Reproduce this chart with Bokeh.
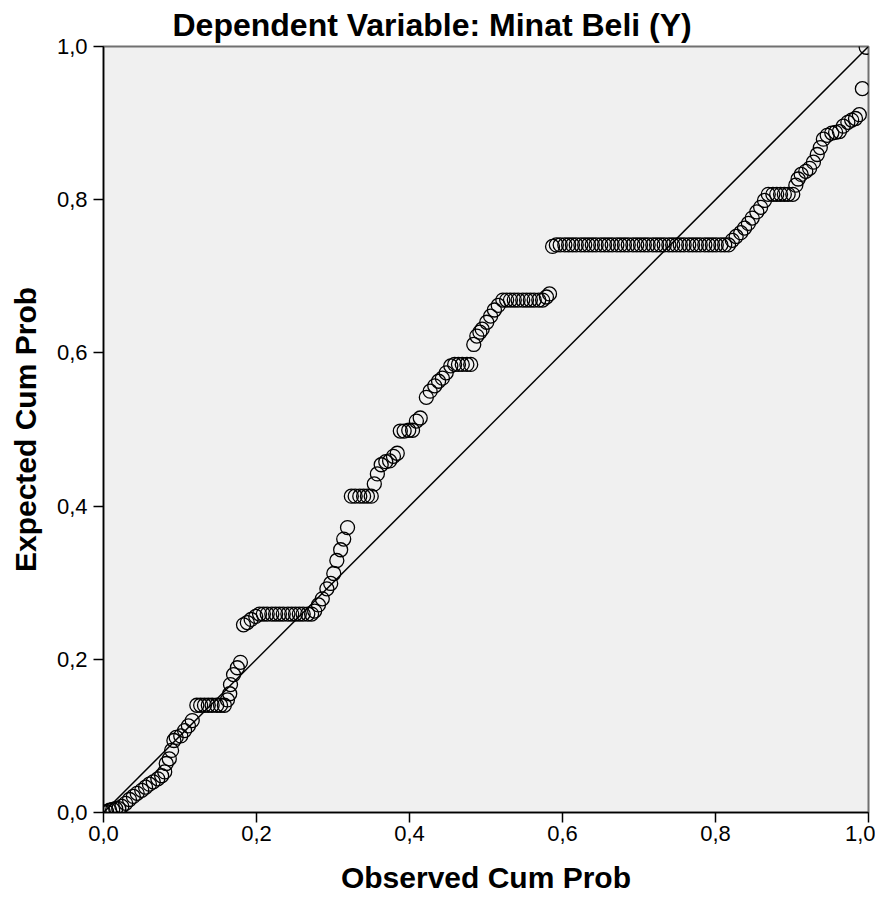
from bokeh.plotting import figure
from bokeh.models import Range1d, FixedTicker, CustomJSTickFormatter
from bokeh.embed import file_html
from bokeh.resources import INLINE

title_text = "Dependent Variable: Minat Beli (Y)"
x_label = "Observed Cum Prob"
y_label = "Expected Cum Prob"
tick_values = [0.0, 0.2, 0.4, 0.6, 0.8, 1.0]

obs_cum_prob = [
    0.000, 0.004, 0.008, 0.012, 0.016, 0.020, 0.024,
    0.029, 0.034, 0.039, 0.044, 0.050, 0.055, 0.060, 0.065, 0.071, 0.076, 0.080, 0.082, 0.086, 0.089,
    0.092, 0.095, 0.101, 0.106, 0.111, 0.116,
    0.122, 0.127, 0.132, 0.137, 0.142, 0.148, 0.153, 0.158,
    0.162, 0.165, 0.166, 0.170, 0.175, 0.179,
    0.183, 0.188, 0.193, 0.199,
    0.204, 0.209, 0.214, 0.220, 0.225, 0.230, 0.235, 0.241, 0.246, 0.251, 0.256, 0.261, 0.267, 0.272,
    0.276, 0.281, 0.286, 0.292, 0.297, 0.301, 0.305, 0.310, 0.314, 0.319,
    0.324, 0.329, 0.335, 0.340, 0.345, 0.350,
    0.354, 0.358, 0.363, 0.369, 0.374, 0.379, 0.384,
    0.388, 0.393, 0.399, 0.404, 0.409, 0.414,
    0.422, 0.427, 0.433, 0.438, 0.443, 0.448, 0.454,
    0.459, 0.464, 0.469, 0.475, 0.480,
    0.484, 0.488, 0.492, 0.495, 0.501, 0.506, 0.511, 0.516,
    0.522, 0.527, 0.532, 0.537, 0.542, 0.548, 0.553, 0.558, 0.563, 0.569, 0.574,
    0.579, 0.583,
    0.587,
    0.592, 0.597, 0.603, 0.608, 0.613, 0.618, 0.624, 0.629, 0.634, 0.639, 0.644, 0.650, 0.655, 0.660,
    0.665, 0.671, 0.676, 0.681, 0.686, 0.692, 0.697, 0.702, 0.707, 0.712, 0.718, 0.723, 0.728, 0.733,
    0.739, 0.744, 0.749, 0.754, 0.759, 0.765, 0.770, 0.775, 0.780, 0.786, 0.791, 0.796, 0.801, 0.807,
    0.812, 0.817,
    0.822, 0.827, 0.833, 0.838, 0.843, 0.848, 0.854, 0.859, 0.864,
    0.869, 0.875, 0.880, 0.885, 0.890, 0.895, 0.901,
    0.905, 0.908, 0.912, 0.918, 0.923, 0.928, 0.933, 0.937, 0.941, 0.946, 0.952, 0.957, 0.962, 0.967,
    0.973, 0.978, 0.983, 0.988,
    0.992, 0.997,
]

exp_cum_prob = [
    0.000, 0.001, 0.003, 0.004, 0.005, 0.005, 0.008,
    0.012, 0.017, 0.021, 0.025, 0.029, 0.033, 0.037, 0.040, 0.044, 0.048, 0.053, 0.064, 0.070, 0.081,
    0.094, 0.098, 0.100, 0.107, 0.113, 0.120,
    0.140, 0.140, 0.140, 0.140, 0.140, 0.140, 0.140, 0.140,
    0.147, 0.155, 0.167, 0.180, 0.189, 0.196,
    0.245, 0.248, 0.252, 0.256,
    0.259, 0.259, 0.259, 0.259, 0.259, 0.259, 0.259, 0.259, 0.259, 0.259, 0.259, 0.259, 0.259, 0.259,
    0.263, 0.271, 0.279, 0.292, 0.299, 0.312, 0.329, 0.343, 0.357, 0.372,
    0.413, 0.413, 0.413, 0.413, 0.413, 0.413,
    0.429, 0.442, 0.454, 0.458, 0.459, 0.465, 0.469,
    0.498, 0.498, 0.499, 0.499, 0.511, 0.515,
    0.542, 0.550, 0.557, 0.563, 0.567, 0.574, 0.583,
    0.585, 0.585, 0.585, 0.585, 0.585,
    0.611, 0.622, 0.627, 0.631, 0.640, 0.648, 0.656, 0.662,
    0.669, 0.669, 0.669, 0.669, 0.669, 0.669, 0.669, 0.669, 0.669, 0.669, 0.669,
    0.673, 0.677,
    0.739,
    0.741, 0.741, 0.741, 0.741, 0.741, 0.741, 0.741, 0.741, 0.741, 0.741, 0.741, 0.741, 0.741, 0.741,
    0.741, 0.741, 0.741, 0.741, 0.741, 0.741, 0.741, 0.741, 0.741, 0.741, 0.741, 0.741, 0.741, 0.741,
    0.741, 0.741, 0.741, 0.741, 0.741, 0.741, 0.741, 0.741, 0.741, 0.741, 0.741, 0.741, 0.741, 0.741,
    0.741, 0.741,
    0.747, 0.752, 0.757, 0.763, 0.769, 0.776, 0.784, 0.790, 0.799,
    0.807, 0.807, 0.807, 0.807, 0.807, 0.807, 0.807,
    0.819, 0.827, 0.833, 0.837, 0.841, 0.849, 0.859, 0.868, 0.879, 0.884, 0.887, 0.888, 0.889, 0.896,
    0.901, 0.904, 0.906, 0.911,
    0.945, 0.999,
]

diag_x = [0.0, 1.0]
diag_y = [0.0, 1.0]

FONT = "Liberation Sans"

p = figure(
    width=875, height=903,
    output_backend="svg", toolbar_location=None,
    x_range=Range1d(0, 1), y_range=Range1d(0, 1),
    min_border_left=103, min_border_right=7, min_border_top=45, min_border_bottom=91,
    title=title_text,
)
p.border_fill_color = "white"
p.background_fill_color = "#f0f0f0"
p.outline_line_color = "#707070"
p.outline_line_width = 2
p.xgrid.visible = False
p.ygrid.visible = False

p.title.text_font = FONT
p.title.text_font_size = "32px"
p.title.text_font_style = "bold"
p.title.text_color = "black"
p.title.align = "left"
p.title.offset = 69
p.title.standoff = 8

fmt = CustomJSTickFormatter(code="return tick.toFixed(1).replace('.', ',');")
for ax in (p.xaxis[0], p.yaxis[0]):
    ax.ticker = FixedTicker(ticks=tick_values)
    ax.formatter = fmt
    ax.minor_tick_line_color = None
    ax.major_tick_in = 0
    ax.major_tick_out = 10
    ax.major_tick_line_color = "black"
    ax.major_tick_line_width = 1.5
    ax.axis_line_color = "black"
    ax.axis_line_width = 1.5
    ax.major_label_text_font = FONT
    ax.major_label_text_font_size = "22px"
    ax.major_label_text_color = "black"
    ax.axis_label_text_font = FONT
    ax.axis_label_text_font_size = "30px"
    ax.axis_label_text_font_style = "bold"
    ax.axis_label_text_color = "black"

p.xaxis.axis_label = x_label
p.yaxis.axis_label = y_label
p.xaxis.major_label_standoff = 3
p.xaxis.axis_label_standoff = 17
p.yaxis.major_label_standoff = 6
p.yaxis.axis_label_standoff = 12

p.line(diag_x, diag_y, line_color="black", line_width=1.5)
p.scatter(obs_cum_prob, exp_cum_prob, marker="circle", size=14,
          fill_color=None, line_color="black", line_width=1.3)

open("out.html", "w").write(file_html(p, INLINE))
